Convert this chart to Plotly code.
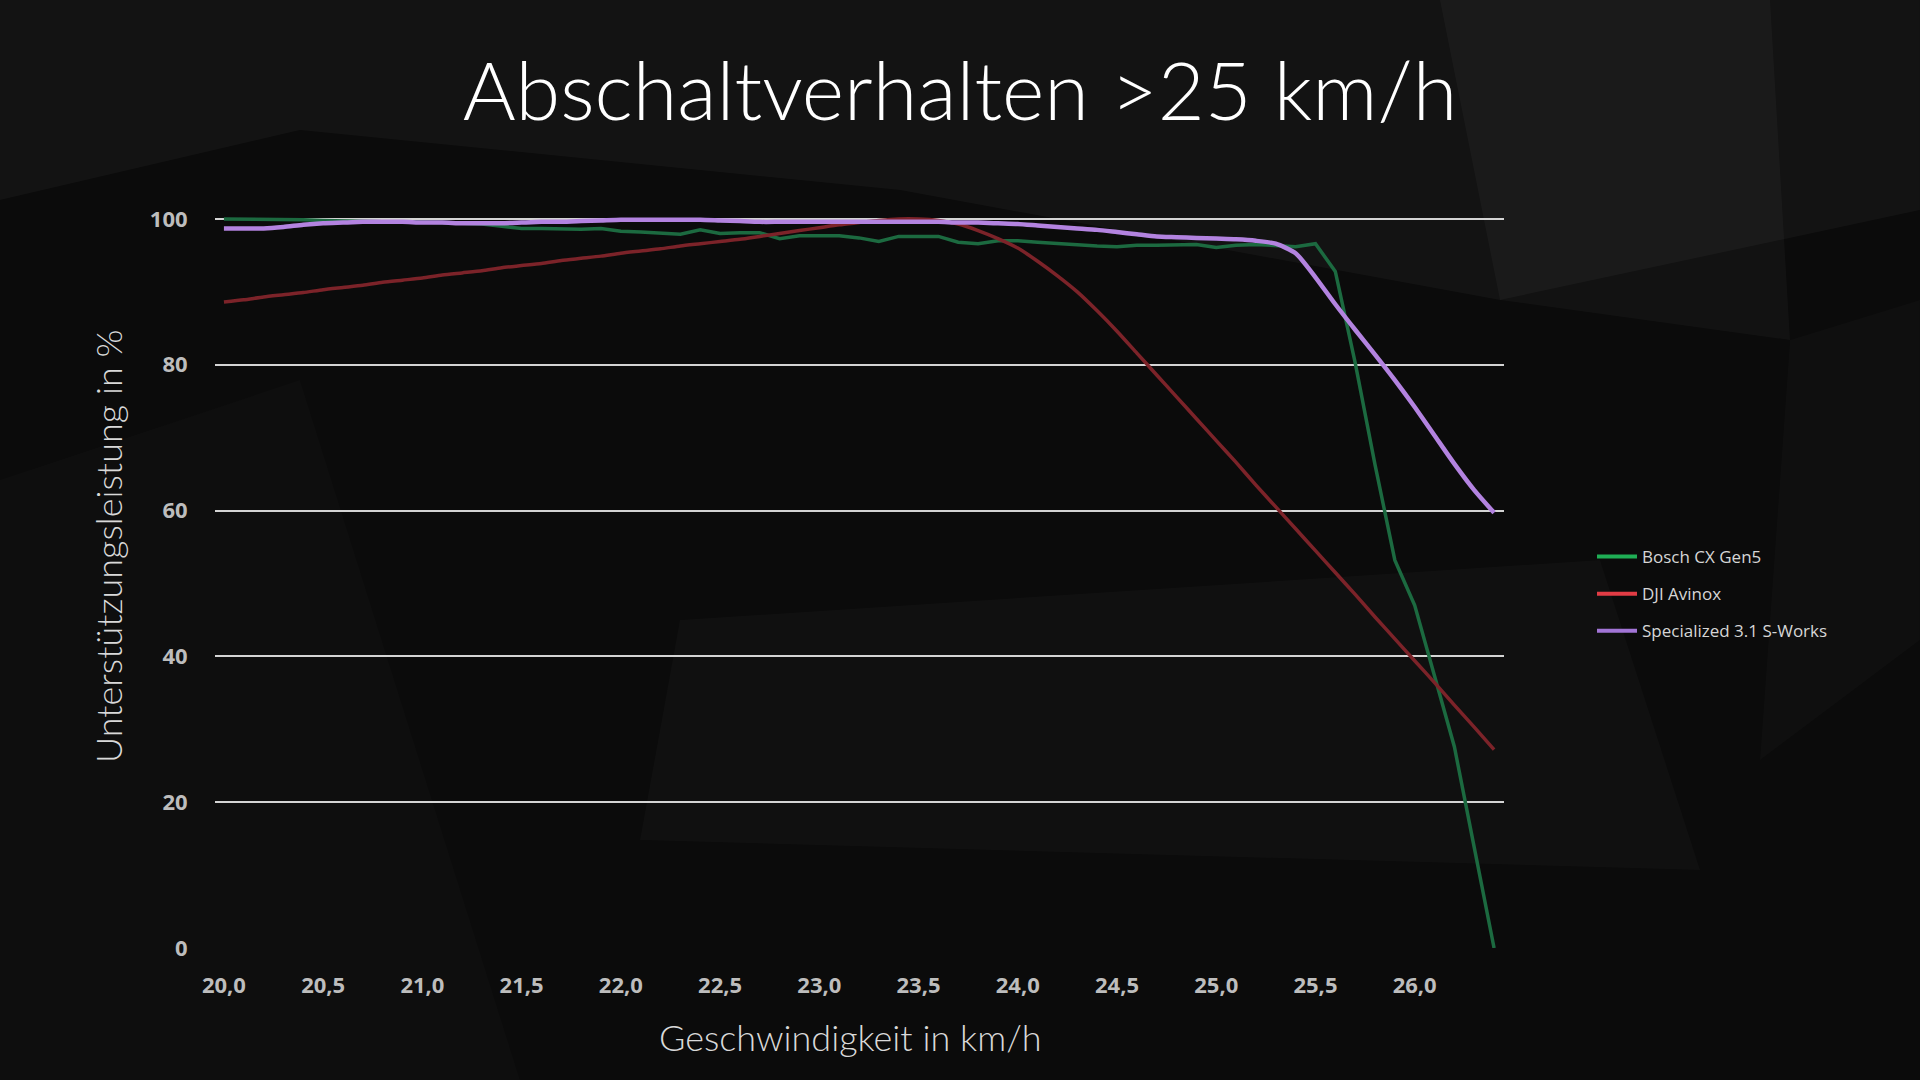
import plotly.graph_objects as go

# ---------------- data ----------------
speed_kmh = [20.0, 20.1, 20.2, 20.3, 20.4, 20.5, 20.6, 20.7, 20.8, 20.9,
             21.0, 21.1, 21.2, 21.3, 21.4, 21.5, 21.6, 21.7, 21.8, 21.9,
             22.0, 22.1, 22.2, 22.3, 22.4, 22.5, 22.6, 22.7, 22.8, 22.9,
             23.0, 23.1, 23.2, 23.3, 23.4, 23.5, 23.6, 23.7, 23.8, 23.9,
             24.0, 24.1, 24.2, 24.3, 24.4, 24.5, 24.6, 24.7, 24.8, 24.9,
             25.0, 25.1, 25.2, 25.3, 25.4, 25.5, 25.6, 25.7, 25.8, 25.9,
             26.0, 26.1, 26.2, 26.3, 26.4]

bosch_cx_gen5 = [100.0, 100.0, 100.0, 99.9, 99.9, 99.8, 99.7, 99.7, 99.6, 99.6,
                 99.6, 99.5, 99.4, 99.3, 99.0, 98.7, 98.7, 98.6, 98.6, 98.7,
                 98.3, 98.2, 98.0, 97.9, 98.5, 98.0, 98.1, 98.1, 97.3, 97.7,
                 97.7, 97.7, 97.4, 96.9, 97.6, 97.6, 97.6, 96.8, 96.6, 97.0,
                 97.0, 96.8, 96.6, 96.5, 96.3, 96.2, 96.4, 96.4, 96.5, 96.5,
                 96.1, 96.4, 96.5, 96.4, 96.2, 96.6, 92.8, 80.3, 66.3, 53.2,
                 47.0, 37.3, 27.6, 13.8, 0.0]

dji_avinox = [88.6, 88.9, 89.3, 89.6, 89.9, 90.3, 90.6, 90.9, 91.3, 91.6,
              91.9, 92.3, 92.6, 92.9, 93.3, 93.6, 93.9, 94.3, 94.6, 94.9,
              95.3, 95.6, 95.9, 96.3, 96.6, 96.9, 97.2, 97.6, 98.0, 98.4,
              98.8, 99.2, 99.5, 99.8, 100.0, 100.0, 99.8, 99.3, 98.4, 97.3,
              96.0, 94.2, 92.2, 90.0, 87.4, 84.6, 81.6, 78.6, 75.6, 72.6,
              69.6, 66.6, 63.5, 60.5, 57.5, 54.5, 51.5, 48.5, 45.4, 42.4,
              39.4, 36.4, 33.3, 30.3, 27.2]

specialized_31_sworks = [98.7, 98.7, 98.7, 98.9, 99.2, 99.4, 99.5, 99.6, 99.6, 99.6,
                         99.5, 99.5, 99.4, 99.4, 99.4, 99.5, 99.6, 99.6, 99.7, 99.8,
                         99.9, 99.9, 99.9, 99.9, 99.9, 99.8, 99.7, 99.6, 99.6, 99.6,
                         99.6, 99.6, 99.6, 99.6, 99.6, 99.6, 99.6, 99.5, 99.5, 99.4,
                         99.3, 99.1, 98.9, 98.7, 98.5, 98.2, 97.9, 97.6, 97.5, 97.4,
                         97.3, 97.2, 97.0, 96.6, 95.3, 92.0, 88.3, 84.8, 81.4, 77.9,
                         74.2, 70.3, 66.4, 62.8, 59.7]

series_names = ["Bosch CX Gen5", "DJI Avinox", "Specialized 3.1 S-Works"]
x_tick_values = [20.0, 20.5, 21.0, 21.5, 22.0, 22.5, 23.0, 23.5, 24.0, 24.5, 25.0, 25.5, 26.0]
y_tick_values = [0, 20, 40, 60, 80, 100]

# ---------------- styling ----------------
W, H = 1920, 1080
PL, PR, PT, PB = 215, 1504, 208, 948   # plot area in pixels
X_RANGE = [19.955, 26.45]
Y_RANGE = [0, 101.5]

line_colors = ["#1c6a40", "#7c2329", "#b383e0"]
legend_colors = ["#1fae55", "#e23c45", "#a275d6"]
line_widths = [3.5, 3.5, 4.5]
line_shapes = ["linear", "spline", "spline"]
series_values = [bosch_cx_gen5, dji_avinox, specialized_31_sworks]

TEXT_FONT = "Lato"
TICK_FONT = "Open Sans"

fig = go.Figure()

for name, vals, col, wid, shp in zip(series_names, series_values, line_colors, line_widths, line_shapes):
    fig.add_trace(go.Scatter(
        x=speed_kmh, y=vals, mode="lines", name=name,
        line=dict(color=col, width=wid, shape=shp, smoothing=0.6),
        showlegend=False, hoverinfo="skip",
    ))

# legend entries (bright colour swatches, as in the original)
for name, col in zip(series_names, legend_colors):
    fig.add_trace(go.Scatter(
        x=[None], y=[None], mode="lines", name=name, legendgroup=name,
        line=dict(color=col, width=4),
    ))


def px2paper(x, y):
    return (x - PL) / (PR - PL), (PB - y) / (PB - PT)


def poly(points):
    pts = [px2paper(x, y) for x, y in points]
    return "M " + " L ".join(f"{a:.4f},{b:.4f}" for a, b in pts) + " Z"


bg_polys = [
    ([(0, 0), (1920, 0), (1920, 210), (1500, 300), (900, 190), (300, 130), (0, 200)], "rgba(255,255,255,0.035)"),
    ([(1440, 0), (1770, 0), (1790, 340), (1500, 300)], "rgba(255,255,255,0.03)"),
    ([(680, 620), (1600, 560), (1700, 870), (640, 840)], "rgba(255,255,255,0.025)"),
    ([(1790, 340), (1920, 300), (1920, 640), (1760, 760)], "rgba(255,255,255,0.02)"),
    ([(0, 480), (300, 380), (520, 1080), (0, 1080)], "rgba(255,255,255,0.015)"),
]
shapes = []
for pts, fill in bg_polys:
    shapes.append(dict(type="path", xref="paper", yref="paper", path=poly(pts),
                       fillcolor=fill, line=dict(width=0), layer="below"))

xt_x, xt_y = px2paper(850, 1037)
yt_x, yt_y = px2paper(108, 546)
annotations = [
    dict(text="Geschwindigkeit in km/h", xref="paper", yref="paper", x=xt_x, y=xt_y,
         xanchor="center", yanchor="middle", showarrow=False,
         font=dict(family=TEXT_FONT, size=36, color="#d9d9d9", weight=300)),
    dict(text="Unterstützungsleistung in %", xref="paper", yref="paper", x=yt_x, y=yt_y,
         xanchor="center", yanchor="middle", showarrow=False, textangle=-90,
         font=dict(family=TEXT_FONT, size=36, color="#d9d9d9", weight=300)),
]

fig.update_layout(
    width=W, height=H,
    margin=dict(l=PL, r=W - PR, t=PT, b=H - PB),
    paper_bgcolor="#0b0b0b",
    plot_bgcolor="rgba(0,0,0,0)",
    separators=",.",
    shapes=shapes,
    annotations=annotations,
    title=dict(
        text="Abschaltverhalten >25 km/h",
        x=0.5, xref="container", xanchor="center",
        y=1 - 92 / H, yref="container", yanchor="middle",
        font=dict(family=TEXT_FONT, size=81, color="#ffffff", weight=300),
    ),
    xaxis=dict(
        range=X_RANGE, tickvals=x_tick_values, tickformat=".1f",
        showgrid=False, zeroline=False, showline=False,
        ticks="outside", ticklen=18, tickcolor="rgba(0,0,0,0)",
        tickfont=dict(family=TICK_FONT, size=22, color="#bdbdbd", weight="bold"),
    ),
    yaxis=dict(
        range=Y_RANGE, tickvals=y_tick_values,
        showgrid=True, gridcolor="#d4d4d4", gridwidth=1.5,
        zeroline=False, showline=False,
        ticks="outside", ticklen=22, tickcolor="rgba(0,0,0,0)",
        tickfont=dict(family=TICK_FONT, size=22, color="#bdbdbd", weight="bold"),
    ),
    legend=dict(
        x=(1592 - PL) / (PR - PL), xanchor="left",
        y=(PB - 594) / (PB - PT), yanchor="middle",
        traceorder="grouped", tracegroupgap=12, itemwidth=40,
        bgcolor="rgba(0,0,0,0)",
        font=dict(family=TICK_FONT, size=17, color="#d6d6d6"),
    ),
)

fig.write_html("out.html")
